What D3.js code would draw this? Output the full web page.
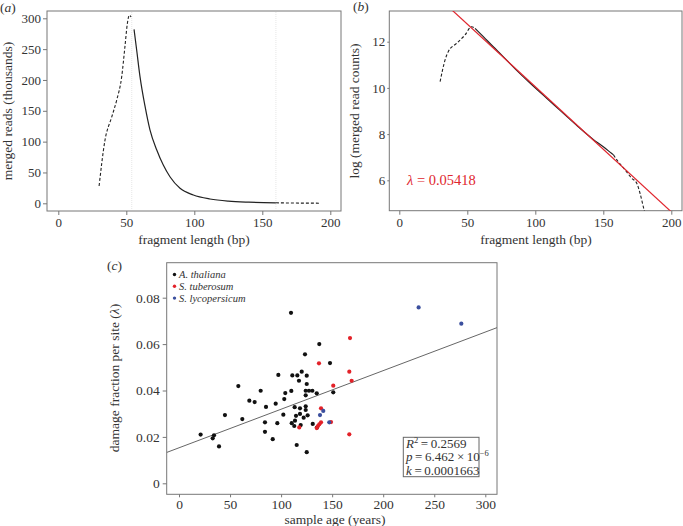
<!DOCTYPE html>
<html><head><meta charset="utf-8">
<script src="https://cdn.jsdelivr.net/npm/d3@7"></script>
<style>
body{margin:0;background:#fff}
svg{display:block}
text{font-family:"Liberation Serif","Times New Roman",serif;}
</style>
</head><body>
<svg id="fig" width="683" height="526" font-family="Liberation Serif, Times New Roman, serif"></svg>
<script>
// ---------- Panel (a): merged reads (thousands) vs fragment length ----------
const aRiseX = [30, 34.3, 39.3, 42.9, 46.6, 49, 50.8, 52.2, 53.5];
const aRiseY = [28, 102, 140, 167, 205, 254, 292, 305, 302];
const aFitX  = [55.7, 57.6, 60.1, 63.8, 67.4, 72.4, 77.2, 82.1, 89.5, 99.3, 111.5, 125, 140, 160];
const aFitY  = [282, 249, 205, 157, 119, 86.5, 62, 43, 24.3, 13.5, 7, 3.5, 1.8, 0.8];
const aTailX = [160, 170, 180, 192];
const aTailY = [0.8, 0.5, 0.3, 0.2];
const aMarks = [54, 160];
const aXTicks = [0, 50, 100, 150, 200];
const aYTicks = [0, 50, 100, 150, 200, 250, 300];

// ---------- Panel (b): log counts ----------
const bRiseX = [30, 33.6, 36, 42.2, 48.3, 53.2, 55.7];
const bRiseY = [10.27, 11.2, 11.57, 11.93, 12.29, 12.65, 12.58];
const bFitX  = [55.7, 61.8, 69.1, 75.3, 86.3, 96.1, 108.4, 118, 130, 142.6, 150, 156, 157.5];
const bFitY  = [12.58, 12.22, 11.78, 11.42, 10.76, 10.21, 9.55, 9.04, 8.40, 7.77, 7.45, 7.17, 7.10];
const bTailX = [157.5, 161, 166, 170.9, 174.6, 177, 179.4, 181];
const bTailY = [7.10, 6.8, 6.45, 6.09, 5.87, 5.44, 4.86, 4.5];
const bLambda = 0.05418;
const bIntercept = 15.47;
const bXTicks = [0, 50, 100, 150, 200];
const bYTicks = [6, 8, 10, 12];

// ---------- Panel (c): damage fraction vs sample age ----------
const thaliana = [[21.2,0.0210],[33,0.0194],[34.3,0.0207],[39.2,0.0159],[45,0.0294],[58.1,0.0419],[62,0.0277],
 [68.9,0.0356],[74.1,0.0350],[80,0.0399],[85.2,0.0329],[84.2,0.0263],[84.2,0.0222],[91.8,0.0190],[94.7,0.0343],
 [96.3,0.0259],[97.3,0.0467],[102.2,0.0296],[103.1,0.0363],[104.1,0.0389],[109.7,0.0735],[110,0.0398],[111,0.0465],
 [110.4,0.0259],[112.9,0.0247],[113.6,0.0270],[113.3,0.0328],[114.6,0.0291],[115.3,0.0165],[115.9,0.0465],
 [117.5,0.0442],[118.5,0.0323],[118.5,0.0299],[119.2,0.0251],[120.2,0.0481],[122.1,0.0283],[123.4,0.0556],
 [124.1,0.0399],[124.1,0.0379],[125.1,0.0428],[124.1,0.0332],[124.1,0.0316],[125.1,0.0464],[125.1,0.0134],
 [126,0.0293],[127.3,0.0399],[130.6,0.0399],[131,0.0256],[134.9,0.0388],[135.1,0.0240],[137.4,0.0600],
 [147.9,0.0518],[151.1,0.0392]];
const tuberosum = [[117.8,0.0241],[134.9,0.0238],[136.1,0.0247],[137.4,0.0254],[139.1,0.0263],[137.1,0.0517],
 [139.1,0.0323],[148.9,0.0264],[151.1,0.0421],[166.8,0.0481],[167.5,0.0626],[169.1,0.0442],[166.8,0.0211]];
const lycopersicum = [[138.1,0.0294],[141.3,0.0312],[147.2,0.0263],[234.7,0.0758],[276.5,0.0688]];
const cSlope = 0.0001663;
const cIntercept = 0.0153;
const cXTicks = [0, 50, 100, 150, 200, 250, 300];
const cYTicks = [0, 0.02, 0.04, 0.06, 0.08];
const cYTickLabels = ["0", "0.02", "0.04", "0.06", "0.08"];
const legendNames = ["A. thaliana", "S. tuberosum", "S. lycopersicum"];
const legendColors = ["#111111", "#e32229", "#3b4f9e"];

const svg = d3.select("#fig");
const AX = "#777", TX = "#333";
const FONT = '"Liberation Serif","Times New Roman",serif';

function zip(xs, ys){ return xs.map((x,i)=>[x, ys[i]]); }

function box(g, l, r, t, b){
  g.append("rect").attr("x", l).attr("y", t).attr("width", r-l).attr("height", b-t)
   .attr("fill","none").attr("stroke", AX).attr("stroke-width", 1);
}
function styleAxis(sel, fs){
  sel.attr("font-family", FONT);
  sel.select(".domain").remove();
  sel.selectAll(".tick line").attr("stroke", AX);
  sel.selectAll(".tick text").attr("fill", TX).attr("font-size", fs).attr("font-family", FONT);
}

// ===== Panel a =====
{
  const L=47, R=341, T=11, B=211;
  const x = d3.scaleLinear().domain([0,200]).range([58.3,330.3]);
  const y = d3.scaleLinear().domain([0,300]).range([203.3,18.3]);
  const g = svg.append("g");
  aMarks.forEach(m => g.append("line").attr("x1", x(m)).attr("x2", x(m)).attr("y1", T+1).attr("y2", B-1)
     .attr("stroke", "#e6e6e6").attr("stroke-width", 1).attr("stroke-dasharray","1,1"));
  box(g, L, R, T, B);
  g.append("g").attr("transform", `translate(0,${B})`)
   .call(d3.axisBottom(x).tickValues(aXTicks).tickFormat(d3.format("d")).tickSize(4).tickPadding(3).tickSizeOuter(0))
   .call(s=>styleAxis(s, 13));
  g.append("g").attr("transform", `translate(${L},0)`)
   .call(d3.axisLeft(y).tickValues(aYTicks).tickFormat(d3.format("d")).tickSize(4).tickPadding(2).tickSizeOuter(0))
   .call(s=>styleAxis(s, 13));
  const line = d3.line().x(d=>x(d[0])).y(d=>y(d[1])).curve(d3.curveMonotoneX);
  g.append("path").attr("d", line(zip(aRiseX, aRiseY))).attr("fill","none").attr("stroke","#222")
   .attr("stroke-width",1.1).attr("stroke-dasharray","3,2");
  g.append("path").attr("d", line(zip(aFitX, aFitY))).attr("fill","none").attr("stroke","#222").attr("stroke-width",1.2);
  g.append("path").attr("d", line(zip(aTailX, aTailY))).attr("fill","none").attr("stroke","#222")
   .attr("stroke-width",1.1).attr("stroke-dasharray","3,2");
  g.append("text").attr("x", 194).attr("y", 243.5).attr("text-anchor","middle").attr("font-size",13.5)
   .attr("fill", TX).text("fragment length (bp)");
  g.append("text").attr("transform", "translate(12,111) rotate(-90)").attr("text-anchor","middle")
   .attr("font-size",13.5).attr("fill", TX).text("merged reads (thousands)");
  g.append("text").attr("x", 0).attr("y", 12).attr("font-size",13.5).attr("fill", TX)
   .html('(<tspan font-style="italic">a</tspan>)');
}

// ===== Panel b =====
{
  const L=389.3, R=682, T=11, B=210.7;
  const x = d3.scaleLinear().domain([0,200]).range([399.3,671.3]);
  const y = d3.scaleLinear().domain([6,12]).range([180.3,41.7]);
  const g = svg.append("g");
  const clipId = "clipb";
  svg.append("defs").append("clipPath").attr("id", clipId).append("rect")
     .attr("x", L).attr("y", T).attr("width", R-L).attr("height", B-T);
  box(g, L, R, T, B);
  g.append("g").attr("transform", `translate(0,${B})`)
   .call(d3.axisBottom(x).tickValues(bXTicks).tickFormat(d3.format("d")).tickSize(4).tickPadding(3).tickSizeOuter(0))
   .call(s=>styleAxis(s, 13));
  g.append("g").attr("transform", `translate(${L},0)`)
   .call(d3.axisLeft(y).tickValues(bYTicks).tickFormat(d3.format("d")).tickSize(2).tickPadding(2).tickSizeOuter(0))
   .call(s=>styleAxis(s, 13));
  const pg = g.append("g").attr("clip-path", `url(#${clipId})`);
  const line = d3.line().x(d=>x(d[0])).y(d=>y(d[1])).curve(d3.curveMonotoneX);
  pg.append("path").attr("d", line(zip(bRiseX, bRiseY))).attr("fill","none").attr("stroke","#222")
   .attr("stroke-width",1.1).attr("stroke-dasharray","3,2");
  pg.append("path").attr("d", line(zip(bFitX, bFitY))).attr("fill","none").attr("stroke","#222").attr("stroke-width",1.2);
  pg.append("path").attr("d", line(zip(bTailX, bTailY))).attr("fill","none").attr("stroke","#222")
   .attr("stroke-width",1.1).attr("stroke-dasharray","3,2");
  const fx = [x.invert(L), x.invert(R)];
  pg.append("line").attr("x1", x(fx[0])).attr("y1", y(bIntercept - bLambda*fx[0]))
    .attr("x2", x(fx[1])).attr("y2", y(bIntercept - bLambda*fx[1]))
    .attr("stroke", "#e0262e").attr("stroke-width", 1.2);
  g.append("text").attr("x", 407).attr("y", 185).attr("font-size",14.5).attr("fill","#e0262e")
   .html('<tspan font-style="italic">λ</tspan> = 0.05418');
  g.append("text").attr("x", 536).attr("y", 243.5).attr("text-anchor","middle").attr("font-size",13.5)
   .attr("fill", TX).text("fragment length (bp)");
  g.append("text").attr("transform", "translate(359,111) rotate(-90)").attr("text-anchor","middle")
   .attr("font-size",13.5).attr("fill", TX).text("log (merged read counts)");
  g.append("text").attr("x", 353).attr("y", 11).attr("font-size",13.5).attr("fill", TX)
   .html('(<tspan font-style="italic">b</tspan>)');
}

// ===== Panel c =====
{
  const L=166.7, R=497, T=262.7, B=494.3;
  const x = d3.scaleLinear().domain([0,300]).range([179,485.3]);
  const y = d3.scaleLinear().domain([0,0.08]).range([483.3,297.7]);
  const g = svg.append("g");
  svg.select("defs").append("clipPath").attr("id","clipc").append("rect")
     .attr("x", L).attr("y", T).attr("width", R-L).attr("height", B-T);
  box(g, L, R, T, B);
  g.append("g").attr("transform", `translate(0,${B})`)
   .call(d3.axisBottom(x).tickValues(cXTicks).tickFormat(d3.format("d")).tickSize(3).tickPadding(2).tickSizeOuter(0))
   .call(s=>styleAxis(s, 13.5));
  g.append("g").attr("transform", `translate(${L},0)`)
   .call(d3.axisLeft(y).tickValues(cYTicks).tickFormat((d,i)=>cYTickLabels[i]).tickSize(4).tickPadding(3).tickSizeOuter(0))
   .call(s=>styleAxis(s, 13.5));
  const pg = g.append("g").attr("clip-path","url(#clipc)");
  const x0 = x.invert(L), x1 = x.invert(R);
  pg.append("line").attr("x1", x(x0)).attr("y1", y(cIntercept + cSlope*x0))
    .attr("x2", x(x1)).attr("y2", y(cIntercept + cSlope*x1))
    .attr("stroke", "#666").attr("stroke-width", 1);
  const groups = [thaliana, tuberosum, lycopersicum];
  groups.forEach((data, gi) => {
    pg.selectAll(null).data(data).enter().append("circle")
      .attr("cx", d=>x(d[0])).attr("cy", d=>y(d[1])).attr("r", 2.1)
      .attr("fill", legendColors[gi]);
  });
  // legend
  legendNames.forEach((n, i) => {
    const yy = 274.5 + i*11.8;
    g.append("circle").attr("cx", 174.5).attr("cy", yy).attr("r", 1.7).attr("fill", legendColors[i]);
    g.append("text").attr("x", 179).attr("y", yy + 3.4).attr("font-size", 10.5).attr("font-style","italic")
      .attr("fill", TX).text(n);
  });
  // stats box
  g.append("rect").attr("x", 403.3).attr("y", 437.3).attr("width", 75.7).attr("height", 39.4)
   .attr("fill","#fff").attr("stroke","#666").attr("stroke-width",1);
  const st = g.append("g").attr("font-size", 13).attr("fill", TX);
  st.append("text").attr("x", 406).attr("y", 447.5)
    .html('<tspan font-style="italic">R</tspan><tspan font-size="8.5" dy="-5">2</tspan><tspan dy="5">\u2009=\u20090.2569</tspan>');
  st.append("text").attr("x", 406).attr("y", 461)
    .html('<tspan font-style="italic">p</tspan>\u2009=\u20096.462\u2009×\u200910<tspan font-size="8.5" dy="-5">−6</tspan>');
  st.append("text").attr("x", 406).attr("y", 474.5)
    .html('<tspan font-style="italic">k</tspan>\u2009=\u20090.0001663');
  g.append("text").attr("x", 335).attr("y", 523.5).attr("text-anchor","middle").attr("font-size",13.5)
   .attr("fill", TX).text("sample age (years)");
  g.append("text").attr("transform", "translate(119,378) rotate(-90)").attr("text-anchor","middle")
   .attr("font-size",13.5).attr("fill", TX)
   .html('damage fraction per site (<tspan font-style="italic">λ</tspan>)');
  g.append("text").attr("x", 107).attr("y", 270).attr("font-size",13.5).attr("fill", TX)
   .html('(<tspan font-style="italic">c</tspan>)');
}
</script>
</body></html>
